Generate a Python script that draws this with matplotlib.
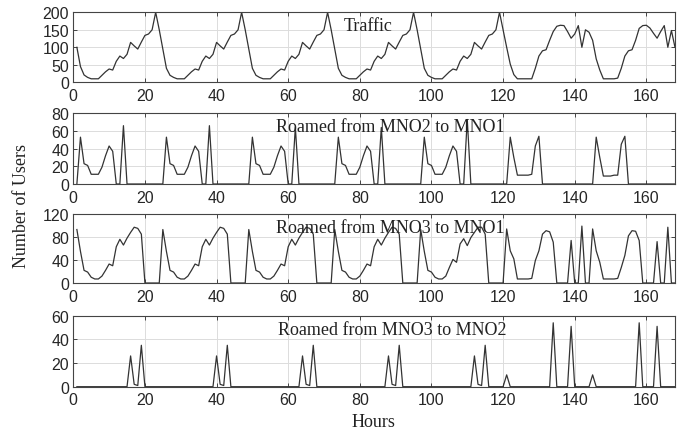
import numpy as np
import matplotlib.pyplot as plt

plt.rcParams['font.family'] = ['Liberation Sans', 'DejaVu Sans']

hours = list(range(1, 169))

# hourly traffic, one row per day
traffic = [
    100, 45, 21, 14, 10, 10, 10, 20, 30, 38, 35, 60, 75, 68, 80, 114, 104, 95, 115, 134, 138, 150, 200, 150,
    95, 40, 20, 14, 10, 10, 10, 20, 30, 38, 35, 60, 75, 68, 80, 114, 104, 95, 115, 134, 138, 150, 200, 150,
    95, 40, 20, 14, 10, 10, 10, 20, 30, 38, 35, 60, 75, 68, 80, 114, 104, 95, 115, 134, 138, 150, 200, 150,
    95, 40, 20, 14, 10, 10, 10, 20, 30, 38, 35, 60, 75, 68, 80, 114, 104, 95, 115, 134, 138, 150, 200, 150,
    95, 40, 20, 14, 10, 10, 10, 20, 30, 38, 35, 60, 75, 68, 80, 114, 104, 95, 115, 134, 138, 150, 200, 150,
    100, 52, 22, 10, 10, 10, 10, 10, 40, 75, 90, 93, 120, 145, 160, 163, 162, 145, 126, 138, 162, 100, 150, 143,
    120, 67, 35, 10, 10, 10, 10, 12, 40, 75, 90, 93, 120, 154, 162, 163, 155, 140, 126, 145, 162, 100, 148, 100,
]

mno2_to_mno1 = [
    0, 53, 23, 21, 11, 11, 11, 19, 32, 43, 37, 0, 0, 66, 0, 0, 0, 0, 0, 0, 0, 0, 0, 0,
    0, 53, 23, 21, 11, 11, 11, 19, 32, 43, 37, 0, 0, 66, 0, 0, 0, 0, 0, 0, 0, 0, 0, 0,
    0, 53, 23, 21, 11, 11, 11, 19, 32, 43, 37, 0, 0, 64, 0, 0, 0, 0, 0, 0, 0, 0, 0, 0,
    0, 53, 23, 21, 11, 11, 11, 19, 32, 43, 37, 0, 0, 64, 0, 0, 0, 0, 0, 0, 0, 0, 0, 0,
    0, 53, 23, 21, 11, 11, 11, 19, 32, 43, 37, 0, 0, 73, 0, 0, 0, 0, 0, 0, 0, 0, 0, 0,
    0, 53, 30, 10, 10, 10, 10, 11, 43, 54, 0, 0, 0, 0, 0, 0, 0, 0, 0, 0, 0, 0, 0, 0,
    0, 53, 30, 9, 9, 9, 10, 10, 45, 54, 0, 0, 0, 0, 0, 0, 0, 0, 0, 0, 0, 0, 0, 0,
]

mno3_to_mno1 = [
    93, 55, 22, 19, 10, 7, 7, 12, 22, 33, 30, 63, 76, 66, 78, 88, 97, 95, 85, 0, 0, 0, 0, 0,
    93, 55, 22, 19, 10, 7, 7, 12, 22, 33, 30, 63, 76, 66, 78, 88, 97, 95, 85, 0, 0, 0, 0, 0,
    93, 55, 22, 19, 10, 7, 7, 12, 22, 33, 30, 63, 76, 66, 78, 88, 97, 95, 85, 0, 0, 0, 0, 0,
    93, 55, 22, 19, 10, 7, 7, 12, 22, 33, 30, 63, 76, 66, 78, 88, 97, 95, 85, 0, 0, 0, 0, 0,
    93, 55, 22, 19, 10, 7, 7, 12, 27, 41, 36, 68, 77, 65, 79, 88, 97, 97, 85, 0, 0, 0, 0, 0,
    94, 56, 42, 7, 7, 7, 7, 8, 39, 56, 85, 91, 89, 71, 0, 0, 0, 0, 74, 0, 0, 99, 0, 0,
    94, 56, 36, 7, 7, 7, 7, 8, 27, 48, 82, 91, 90, 74, 0, 0, 0, 0, 72, 0, 0, 97, 0, 0,
]

mno3_to_mno2 = [
    0, 0, 0, 0, 0, 0, 0, 0, 0, 0, 0, 0, 0, 0, 0, 26, 2, 1, 35, 0, 0, 0, 0, 0,
    0, 0, 0, 0, 0, 0, 0, 0, 0, 0, 0, 0, 0, 0, 0, 26, 2, 1, 35, 0, 0, 0, 0, 0,
    0, 0, 0, 0, 0, 0, 0, 0, 0, 0, 0, 0, 0, 0, 0, 26, 2, 1, 35, 0, 0, 0, 0, 0,
    0, 0, 0, 0, 0, 0, 0, 0, 0, 0, 0, 0, 0, 0, 0, 26, 2, 1, 35, 0, 0, 0, 0, 0,
    0, 0, 0, 0, 0, 0, 0, 0, 0, 0, 0, 0, 0, 0, 0, 26, 2, 1, 35, 0, 0, 0, 0, 0,
    10, 0, 0, 0, 0, 0, 0, 0, 0, 0, 0, 0, 0, 54, 0, 0, 0, 0, 51, 0, 0, 0, 0, 0,
    10, 0, 0, 0, 0, 0, 0, 0, 0, 0, 0, 0, 0, 54, 0, 0, 0, 0, 51, 0, 0, 0, 0, 0,
]

titles = ['Traffic', 'Roamed from MNO2 to MNO1', 'Roamed from MNO3 to MNO1', 'Roamed from MNO3 to MNO2']
title_x = [82.4, 88.6, 88.6, 89]
ylims = [200, 80, 120, 60]
ysteps = [50, 20, 40, 20]
series = [traffic, mno2_to_mno1, mno3_to_mno1, mno3_to_mno2]

# axes boxes in pixels: (top, bottom)
boxes = [(13.3, 83.3), (114.3, 185), (215, 284), (316.7, 387.7)]
W, H = 694, 431
left, right = 73.3, 675

fig = plt.figure(figsize=(W / 100, H / 100), dpi=100)

for i in range(4):
    top, bot = boxes[i]
    ax = fig.add_axes([left / W, 1 - bot / H, (right - left) / W, (bot - top) / H])
    ax.plot(hours, series[i], color='#333333', lw=0.9)
    ax.set_xlim(0, 168)
    ax.set_ylim(0, ylims[i])
    ax.set_xticks(range(0, 161, 20))
    ax.set_yticks(range(0, ylims[i] + 1, ysteps[i]))
    ax.grid(True, color='#dcdcdc', lw=0.7)
    ax.set_axisbelow(True)
    ax.tick_params(direction='in', top=True, right=True, length=3, width=0.7,
                   color='#444444', labelsize=11.5, labelcolor='#262626')
    ax.tick_params(axis='x', pad=4)
    ax.tick_params(axis='y', pad=3)
    for s in ax.spines.values():
        s.set_color('#444444')
        s.set_linewidth(0.8)
    ax.text(title_x[i], ylims[i] * 0.93, titles[i], ha='center', va='top',
            family='Liberation Serif', fontsize=13, color='#222222')

fig.text(22 / W, 1 - 206 / H, 'Number of Users', rotation=90, ha='center', va='center',
         family='Liberation Serif', fontsize=13, color='#222222')
fig.text(373.5 / W, 1 - 423 / H, 'Hours', ha='center', va='center',
         family='Liberation Serif', fontsize=13, color='#222222')

fig.savefig('out.png', dpi=100)
